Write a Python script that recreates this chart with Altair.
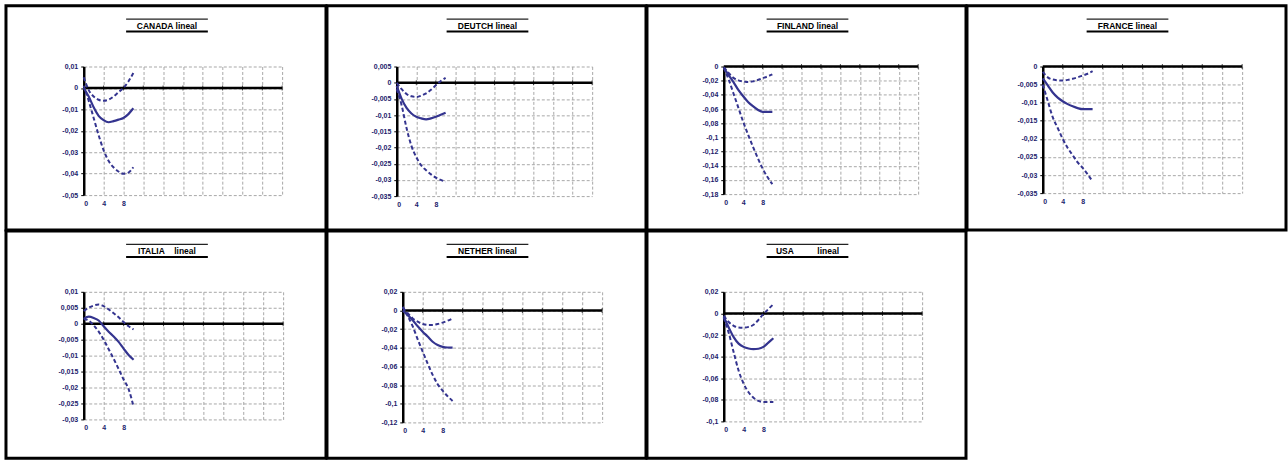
import altair as alt
import pandas as pd

# Horizon of the impulse responses
steps = list(range(11))

# Panel titles
countries = ["CANADA", "DEUTCH", "FINLAND", "FRANCE", "ITALIA", "NETHER", "USA"]
titles = [
    "CANADA lineal",
    "DEUTCH lineal",
    "FINLAND lineal",
    "FRANCE lineal",
    "ITALIA\u00a0\u00a0\u00a0\u00a0lineal",
    "NETHER lineal",
    "USA\u00a0\u00a0\u00a0\u00a0\u00a0\u00a0\u00a0\u00a0\u00a0\u00a0lineal",
]

# Responses: point estimate and lower / upper bands
canada_mid = [0.0, -0.004, -0.009, -0.013, -0.015, -0.016, -0.0155, -0.0148, -0.014, -0.0122, -0.0095]
canada_low = [0.001, -0.006, -0.014, -0.022, -0.029, -0.034, -0.037, -0.039, -0.040, -0.0395, -0.037]
canada_up = [0.005, -0.001, -0.004, -0.0055, -0.006, -0.0055, -0.004, -0.002, 0.0, 0.003, 0.007]

deutch_mid = [-0.001, -0.005, -0.0078, -0.0095, -0.0105, -0.011, -0.0113, -0.011, -0.0105, -0.0099, -0.0093]
deutch_low = [-0.002, -0.007, -0.014, -0.0195, -0.023, -0.0255, -0.027, -0.0283, -0.0293, -0.030, -0.0306]
deutch_up = [0.0, -0.002, -0.0035, -0.0042, -0.0044, -0.004, -0.0033, -0.0022, -0.0008, 0.0005, 0.0015]

finland_mid = [-0.002, -0.012, -0.022, -0.033, -0.042, -0.050, -0.056, -0.061, -0.064, -0.064, -0.064]
finland_low = [-0.002, -0.018, -0.038, -0.058, -0.078, -0.096, -0.113, -0.129, -0.144, -0.156, -0.166]
finland_up = [-0.001, -0.009, -0.016, -0.0195, -0.021, -0.022, -0.021, -0.019, -0.0165, -0.014, -0.011]

france_mid = [-0.0033, -0.0052, -0.0072, -0.0086, -0.0096, -0.0104, -0.011, -0.0115, -0.0118, -0.0118, -0.0118]
france_low = [-0.005, -0.0095, -0.014, -0.017, -0.020, -0.0225, -0.0245, -0.0265, -0.028, -0.0298, -0.0318]
france_up = [-0.0015, -0.003, -0.0036, -0.0038, -0.0039, -0.0037, -0.0034, -0.003, -0.0025, -0.002, -0.0013]

italia_mid = [0.0015, 0.0022, 0.0018, 0.001, -0.0008, -0.0025, -0.004, -0.0057, -0.0078, -0.0098, -0.0113]
italia_low = [0.0015, 0.001, -0.0005, -0.0025, -0.005, -0.008, -0.011, -0.0142, -0.0175, -0.0205, -0.026]
italia_up = [0.004, 0.005, 0.0057, 0.006, 0.0055, 0.0045, 0.0033, 0.002, 0.0005, -0.0008, -0.0018]

nether_mid = [0.0, -0.005, -0.0105, -0.017, -0.0227, -0.028, -0.0335, -0.037, -0.039, -0.0397, -0.0398]
nether_low = [0.004, -0.006, -0.017, -0.031, -0.044, -0.057, -0.069, -0.079, -0.086, -0.092, -0.097]
nether_up = [0.003, -0.003, -0.0085, -0.012, -0.0145, -0.0155, -0.0155, -0.0145, -0.013, -0.011, -0.0085]

usa_mid = [-0.003, -0.013, -0.022, -0.028, -0.031, -0.0325, -0.033, -0.0327, -0.031, -0.027, -0.023]
usa_low = [-0.004, -0.018, -0.036, -0.053, -0.065, -0.073, -0.078, -0.081, -0.082, -0.082, -0.082]
usa_up = [-0.002, -0.008, -0.0115, -0.013, -0.0132, -0.0125, -0.0105, -0.006, -0.0005, 0.004, 0.0085]

# Vertical axis ticks of each panel
canada_ticks = [0.01, 0, -0.01, -0.02, -0.03, -0.04, -0.05]
deutch_ticks = [0.005, 0, -0.005, -0.01, -0.015, -0.02, -0.025, -0.03, -0.035]
finland_ticks = [0, -0.02, -0.04, -0.06, -0.08, -0.1, -0.12, -0.14, -0.16, -0.18]
france_ticks = [0, -0.005, -0.01, -0.015, -0.02, -0.025, -0.03, -0.035]
italia_ticks = [0.01, 0.005, 0, -0.005, -0.01, -0.015, -0.02, -0.025, -0.03]
nether_ticks = [0.02, 0, -0.02, -0.04, -0.06, -0.08, -0.1, -0.12]
usa_ticks = [0.02, 0, -0.02, -0.04, -0.06, -0.08, -0.1]

# Horizontal axis ticks (only the first three carry a label)
x_ticks = list(range(0, 41, 4))
x_labelled = [0, 4, 8]

series = {
    "CANADA": (canada_low, canada_mid, canada_up, canada_ticks),
    "DEUTCH": (deutch_low, deutch_mid, deutch_up, deutch_ticks),
    "FINLAND": (finland_low, finland_mid, finland_up, finland_ticks),
    "FRANCE": (france_low, france_mid, france_up, france_ticks),
    "ITALIA": (italia_low, italia_mid, italia_up, italia_ticks),
    "NETHER": (nether_low, nether_mid, nether_up, nether_ticks),
    "USA": (usa_low, usa_mid, usa_up, usa_ticks),
}

# Layout of each cell: plot offset inside the cell and plot size
# (panels of one row share the same top offset)
geometry = {
    "CANADA": dict(left=78, top=61, w=199, h=129, cw=321, ch=225),
    "DEUTCH": dict(left=70, top=61, w=196, h=130, cw=320, ch=225),
    "FINLAND": dict(left=77, top=61, w=195, h=128, cw=320, ch=225),
    "FRANCE": dict(left=76, top=61, w=200, h=127, cw=320, ch=225),
    "ITALIA": dict(left=78, top=61, w=200, h=128, cw=321, ch=228),
    "NETHER": dict(left=76, top=61, w=200, h=131, cw=320, ch=228),
    "USA": dict(left=77, top=61, w=199, h=130, cw=320, ch=228),
}

LINE = "#34348f"
LABEL = "#1c1c6c"
GRID = "#a8a8a8"
BORDER = 3


def panel(name, title):
    low, mid, up, yticks = series[name]
    g = geometry[name]
    left, top = g["left"], g["top"]

    bands = pd.DataFrame(
        {"step": steps * 2, "value": low + up, "band": ["low"] * len(steps) + ["up"] * len(steps)}
    )
    centre = pd.DataFrame({"step": steps, "value": mid})

    xscale = alt.Scale(domain=[0, 40], nice=False, zero=False)
    yscale = alt.Scale(domain=[min(yticks), max(yticks)], nice=False, zero=False)
    labelled = " || ".join(f"datum.value == {v}" for v in x_labelled)
    x_enc = alt.X(
        "step:Q",
        scale=xscale,
        axis=alt.Axis(
            title=None, values=x_ticks, labelExpr=f"({labelled}) ? datum.label : ''",
            domain=False, ticks=False, grid=True, gridDash=[3, 2], gridColor=GRID,
            labelFontSize=7, labelFont="Liberation Sans", labelFontWeight="bold",
            labelColor=LABEL, labelPadding=4,
        ),
    )
    y_enc = alt.Y(
        "value:Q",
        scale=yscale,
        axis=alt.Axis(
            title=None, values=yticks, labelExpr="replace(toString(datum.value), '.', ',')",
            domain=True, domainColor="black", domainWidth=2.5,
            ticks=True, tickSize=3, tickColor="black",
            grid=True, gridDash=[3, 2], gridColor=GRID,
            labelFontSize=7, labelFont="Liberation Sans", labelFontWeight="bold",
            labelColor=LABEL, labelPadding=3,
        ),
    )

    zero = alt.Chart(pd.DataFrame({"value": [0]})).mark_rule(color="black", strokeWidth=2.5).encode(y=y_enc)
    zero_ticks = (
        alt.Chart(pd.DataFrame({"step": x_ticks[1:], "value": [0] * (len(x_ticks) - 1)}))
        .mark_tick(color="black", size=5, thickness=1, orient="vertical")
        .encode(x=x_enc, y=y_enc)
    )
    band_lines = (
        alt.Chart(bands)
        .mark_line(color=LINE, strokeWidth=2, strokeDash=[4, 2.5], interpolate="monotone")
        .encode(x=x_enc, y=y_enc, detail="band:N")
    )
    centre_line = (
        alt.Chart(centre)
        .mark_line(color=LINE, strokeWidth=2.2, interpolate="monotone")
        .encode(x=x_enc, y=y_enc)
    )

    one = pd.DataFrame({"title": [title]})
    cx = g["cw"] / 2 + 1
    border = alt.Chart(one).mark_rect(fill="transparent", stroke="black", strokeWidth=BORDER).encode(
        x=alt.value(-left), x2=alt.value(g["cw"] - left),
        y=alt.value(-top), y2=alt.value(g["ch"] - top),
    )
    heading = alt.Chart(one).mark_text(
        font="Liberation Sans", fontSize=8.5, fontWeight="bold", color="black",
        align="center", baseline="middle",
    ).encode(x=alt.value(cx - left), y=alt.value(20.5 - top), text="title:N")
    over = alt.Chart(one).mark_rule(color="#222222", strokeWidth=1.2).encode(
        x=alt.value(cx - 41 - left), x2=alt.value(cx + 41 - left), y=alt.value(13.5 - top)
    )
    under = alt.Chart(one).mark_rule(color="black", strokeWidth=2).encode(
        x=alt.value(cx - 41 - left), x2=alt.value(cx + 41 - left), y=alt.value(26 - top)
    )

    return alt.layer(
        zero, zero_ticks, band_lines, centre_line, border, heading, over, under
    ).properties(width=g["w"], height=g["h"])


panels = [panel(n, t) for n, t in zip(countries, titles)]
row1 = alt.hconcat(*panels[:4], spacing=-BORDER)
row2 = alt.hconcat(*panels[4:], spacing=-BORDER)

chart = (
    alt.vconcat(row1, row2, spacing=-BORDER)
    .properties(padding={"left": 4, "top": 3, "right": 0, "bottom": 0}, background="white")
    .configure_view(strokeWidth=0)
)

chart.save("out.html", embed_options={"renderer": "svg", "actions": False})
